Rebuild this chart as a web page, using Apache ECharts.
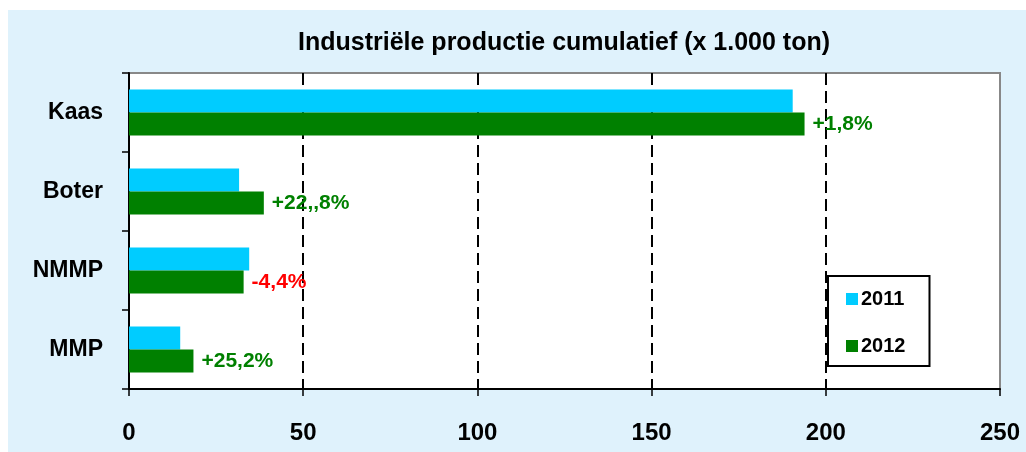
<!DOCTYPE html>
<html>
<head>
<meta charset="utf-8">
<script src="https://cdn.jsdelivr.net/npm/echarts@6/dist/echarts.min.js"></script>
<style>
  html,body{margin:0;padding:0;background:#fff;}
  #main{width:1026px;height:452px;}
</style>
</head>
<body>
<div id="main"></div>
<script>
// data
var categories = ['Kaas', 'Boter', 'NMMP', 'MMP'];
var prod2011 = [190.5, 31.6, 34.5, 14.7];
var prod2012 = [193.9, 38.7, 32.9, 18.5];
var changeLabels = ['+1,8%', '+22,,8%', '-4,4%', '+25,2%'];
var xTicks = [0, 50, 100, 150, 200, 250];

var font = 'Liberation Sans, Arial, sans-serif';
var chart = echarts.init(document.getElementById('main'), null, {renderer: 'canvas'});

var data2012 = prod2012.map(function (v, i) {
  return {
    value: v,
    label: {color: changeLabels[i].charAt(0) == '-' ? '#ff0000' : '#008000'}
  };
});

var option = {
  backgroundColor: '#ffffff',
  animation: false,
  graphic: [{
    type: 'rect',
    z: -10,
    shape: {x: 8, y: 10, width: 1018, height: 442},
    style: {fill: '#dff2fc'}
  }],
  title: {
    text: 'Industriële productie cumulatief (x 1.000 ton)',
    left: 293,
    top: 26,
    textStyle: {fontFamily: font, fontSize: 25, fontWeight: 'bold', color: '#000'}
  },
  legend: {
    orient: 'vertical',
    left: 828,
    top: 276,
    data: ['2011', '2012'],
    icon: 'rect',
    itemWidth: 12,
    itemHeight: 12,
    itemGap: 27,
    padding: [13, 24, 10, 18],
    backgroundColor: '#fff',
    borderColor: '#000',
    borderWidth: 2,
    borderRadius: 0,
    textStyle: {fontFamily: font, fontSize: 20, fontWeight: 'bold', color: '#000', padding: [0, 0, 0, -2]}
  },
  grid: {
    left: 129, right: 26, top: 73, bottom: 63,
    show: true,
    backgroundColor: '#fff',
    borderColor: '#888',
    borderWidth: 2
  },
  xAxis: {
    type: 'value',
    min: xTicks[0],
    max: xTicks[xTicks.length - 1],
    interval: xTicks[1] - xTicks[0],
    axisLine: {show: true, lineStyle: {color: '#000', width: 2}},
    axisTick: {show: true, length: 7, lineStyle: {color: '#000', width: 1.5}},
    axisLabel: {fontFamily: font, fontSize: 24, fontWeight: 'bold', color: '#000', margin: 32},
    splitLine: {
      show: true,
      showMinLine: false,
      showMaxLine: false,
      lineStyle: {color: '#000', width: 2, type: [12, 6]}
    }
  },
  yAxis: {
    type: 'category',
    inverse: true,
    data: categories,
    axisLine: {show: true, lineStyle: {color: '#000', width: 2}},
    axisTick: {show: true, length: 7, alignWithLabel: false, lineStyle: {color: '#000', width: 1.5}},
    axisLabel: {fontFamily: font, fontSize: 23, fontWeight: 'bold', color: '#000', margin: 26}
  },
  series: [
    {
      name: '2011',
      type: 'bar',
      data: prod2011,
      barWidth: 23,
      barGap: '0%',
      itemStyle: {color: '#00ccff'}
    },
    {
      name: '2012',
      type: 'bar',
      data: data2012,
      barWidth: 23,
      barGap: '0%',
      itemStyle: {color: '#008000'},
      label: {
        show: true,
        position: 'right',
        distance: 8,
        fontFamily: font,
        fontSize: 21,
        fontWeight: 'bold',
        formatter: function (p) { return changeLabels[p.dataIndex]; }
      }
    }
  ]
};

chart.setOption(option);
</script>
</body>
</html>
